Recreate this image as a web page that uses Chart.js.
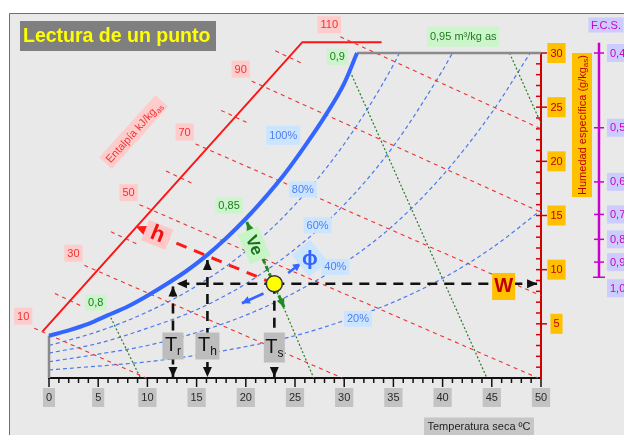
<!DOCTYPE html>
<html>
<head>
<meta charset="utf-8">
<title>Lectura de un punto</title>
<script src="https://cdn.jsdelivr.net/npm/chart.js@4"></script>
<style>
  html, body { margin: 0; padding: 0; background: #fff; }
  canvas { display: block; }
</style>
</head>
<body>
<canvas id="psy" width="624" height="435"></canvas>
<script>
// ---- Axis values ----
const tempLabels = [0, 5, 10, 15, 20, 25, 30, 35, 40, 45, 50];          // dry bulb, °C
const humLabels  = [5, 10, 15, 20, 25, 30];                              // g/kg dry air
const fcsLabels  = ['0,4', '0,5', '0,6', '0,7', '0,8', '0,9', '1,0'];    // sensible heat factor
const fcsPos     = [30.0, 23.1, 18.1, 15.1, 12.8, 10.7, 9.3];            // where each F.C.S. tick sits on the humidity scale

// ---- Saturation curve (100 %) ----
const satTemp = [0, 2, 4, 6, 8, 10, 12, 14, 16, 18, 20, 22, 24, 26, 28, 30, 31.3];
const satHum  = [3.9, 4.4, 5.0, 5.8, 6.6, 7.6, 8.7, 9.9, 11.3, 12.9, 14.7, 16.7, 18.9, 21.4, 24.1, 27.2, 30];

// ---- Relative humidity curves [T, W] ----
const rh80 = [[0, 3.0], [5, 4.3], [10, 6.1], [15, 8.5], [20, 11.7], [25, 16.0], [30, 21.6], [35, 28.9], [35.6, 30]];
const rh60 = [[0, 2.3], [5, 3.2], [10, 4.6], [15, 6.3], [20, 8.7], [25, 11.9], [30, 16.0], [35, 21.4], [40, 28.4], [41, 30]];
const rh40 = [[0, 1.5], [5, 2.2], [10, 3.0], [15, 4.2], [20, 5.8], [25, 7.9], [30, 10.6], [35, 14.1], [40, 18.7], [45, 24.5], [48.9, 30]];
const rh20 = [[0, 0.75], [5, 1.1], [10, 1.5], [15, 2.1], [20, 2.9], [25, 3.9], [30, 5.3], [35, 7.0], [40, 9.2], [45, 12.0], [50, 15.5]];
const rhNames = ['100%', '80%', '60%', '40%', '20%'];

// ---- Enthalpy (kJ/kg dry air) ----
const enthalpyValues = [10, 30, 50, 70, 90, 110];
const enthalpyFrom = [[-1.5, 4.6], [3.6, 10.4], [9.2, 16.0], [14.9, 21.6], [20.6, 27.4], [29.6, 31.5]];
const enthalpyTo   = [[9.9, 0], [29.8, 0], [49.7, 0], [50, 7.6], [50, 15.3], [50, 23.0]];
const enthalpyMarks = [ // 20, 40, 60, 80, 100 on the enthalpy scale
  [[0.6, 7.8], [3.4, 6.6]],
  [[6.3, 13.5], [9.1, 12.3]],
  [[11.9, 19.1], [14.7, 17.9]],
  [[17.5, 24.7], [20.3, 23.5]],
  [[23.0, 30.2], [25.8, 29.0]]
];
const enthalpyScale = [[-0.65, 4.3], [25.75, 31.0], [33.8, 31.0]];

// ---- Specific volume (m3/kg dry air) ----
const volumeNames = ['0,8', '0,85', '0,9'];
const volumeFrom = [[6.1, 5.9], [20.0, 14.7], [30.6, 28.3], [46.8, 30]];
const volumeTo   = [[9.3, 0], [26.9, 0], [44.5, 0], [50, 23.5]];

// ---- The state point and its readings ----
const stateT = 22.9, stateW = 8.7;
const dewT = 12.6, dewTop = 8.45;
const wetT = 16.1, wetTop = 10.9;
const leftTipT = 13.0, rightTipT = 49.6;
const hReadEnd = [8.8, 14.0];
const veReadEnds = [[20.1, 14.4], [23.9, 6.5]];
const phiUp   = [[24.3, 9.7], [25.6, 10.6]];
const phiDown = [[21.8, 7.8], [19.6, 6.9]];

const FONT = '"Liberation Sans", Arial, Helvetica, sans-serif';

// ---------- drawing helpers ----------
function seg(ctx, x1, y1, x2, y2) {
  ctx.beginPath(); ctx.moveTo(x1, y1); ctx.lineTo(x2, y2); ctx.stroke();
}
function tag(ctx, txt, cx, cy, o) {
  ctx.save();
  ctx.translate(cx, cy);
  if (o.rot) ctx.rotate(o.rot * Math.PI / 180);
  ctx.font = o.font || ('11px ' + FONT);
  const w = o.w || (ctx.measureText(txt).width + (o.pad != null ? o.pad : 7));
  const h = o.h || 18;
  ctx.fillStyle = o.bg;
  ctx.fillRect(-w / 2, -h / 2, w, h);
  if (o.textRot != null) ctx.rotate((o.textRot - (o.rot || 0)) * Math.PI / 180);
  ctx.fillStyle = o.color;
  ctx.textAlign = 'center';
  ctx.textBaseline = 'middle';
  ctx.fillText(txt, 0, (o.dy || 0) + 0.5);
  ctx.restore();
}
function head(ctx, fx, fy, tx, ty, len, half, color) {
  const a = Math.atan2(ty - fy, tx - fx);
  ctx.save();
  ctx.translate(tx, ty);
  ctx.rotate(a);
  ctx.fillStyle = color;
  ctx.beginPath();
  ctx.moveTo(0, 0);
  ctx.lineTo(-len, -half);
  ctx.lineTo(-len, half);
  ctx.closePath();
  ctx.fill();
  ctx.restore();
}

function drawAxes(chart) {
  const ctx = chart.ctx, xs = chart.scales.x, ys = chart.scales.y;
  const X = v => xs.getPixelForValue(v), Y = v => ys.getPixelForValue(v);
  ctx.save();
  ctx.setLineDash([]);

  // dry-bulb axis
  ctx.strokeStyle = '#111';
  ctx.lineWidth = 2;
  seg(ctx, X(0) - 1, Y(0), X(50) + 1, Y(0));
  ctx.lineWidth = 1.5;
  for (let t = tempLabels[0]; t <= tempLabels[tempLabels.length - 1]; t++) {
    seg(ctx, X(t), Y(0), X(t), Y(0) + (t % 5 === 0 ? 9 : 5));
  }
  tempLabels.forEach(t => tag(ctx, String(t), X(t), Y(0) + 19.5,
    { bg: '#c3c3c3', color: '#2a2a2a', h: 19, pad: 6 }));
  tag(ctx, 'Temperatura seca ºC', X(43.7), 426.5,
    { bg: '#c6c6c6', color: '#1e1e1e', h: 18, w: 110 });

  // humidity axis
  ctx.strokeStyle = '#d00000';
  ctx.lineWidth = 2;
  seg(ctx, X(50), Y(0) + 1, X(50), Y(30));
  ctx.lineWidth = 1.5;
  for (let w = 1; w <= humLabels[humLabels.length - 1]; w++) {
    const major = w % 5 === 0;
    seg(ctx, X(50) - 5, Y(w), X(50) + (major ? 6 : 0), Y(w));
  }
  humLabels.forEach(w => tag(ctx, String(w), X(50) + 15.5, Y(w),
    { bg: '#ffc000', color: '#c00000', h: 20, pad: 6 }));

  // axis title, rotated, with subscript
  ctx.save();
  const hx = X(50) + 41, hy = Y(30) + 72;
  ctx.fillStyle = '#ffc000';
  ctx.fillRect(hx - 10, Y(30), 20, 144);
  ctx.translate(hx, hy);
  ctx.rotate(-Math.PI / 2);
  ctx.fillStyle = '#c00000';
  ctx.textBaseline = 'middle';
  ctx.font = '11px ' + FONT;
  const main = 'Humedad específica (g/kg';
  const w1 = ctx.measureText(main).width;
  ctx.font = '8px ' + FONT;
  const w2 = ctx.measureText('as').width;
  ctx.font = '11px ' + FONT;
  const w3 = ctx.measureText(')').width;
  let sx = -(w1 + w2 + w3) / 2;
  ctx.textAlign = 'left';
  ctx.fillText(main, sx, 1);
  ctx.font = '8px ' + FONT;
  ctx.fillText('as', sx + w1, 4);
  ctx.font = '11px ' + FONT;
  ctx.fillText(')', sx + w1 + w2, 1);
  ctx.restore();

  // F.C.S. scale
  const fx = X(50) + 58;
  ctx.strokeStyle = '#cc00cc';
  ctx.lineWidth = 2.5;
  seg(ctx, fx, Y(30.95), fx, Y(fcsPos[fcsPos.length - 1]));
  ctx.lineWidth = 1.5;
  fcsPos.forEach((p, i) => {
    const last = i === fcsPos.length - 1;
    seg(ctx, fx - (last ? 6 : 5), Y(p), fx + (last ? 6 : 5), Y(p));
    const ly = last ? Y(p) + 11 : Y(p);
    ctx.fillStyle = '#ccccff';
    ctx.fillRect(fx + 8, ly - 9, 40, 18);
    ctx.fillStyle = '#cc00cc';
    ctx.font = '11px ' + FONT;
    ctx.textAlign = 'left';
    ctx.textBaseline = 'middle';
    ctx.fillText(fcsLabels[i], fx + 11, ly + 0.5);
  });
  tag(ctx, 'F.C.S.', fx + 7, 25, { bg: '#ccccff', color: '#cc00cc', h: 15, w: 35 });

  ctx.restore();
}

function subText(ctx, base, sub, cx, cy, bigPx, smallPx, color, bold) {
  const b = bold ? 'bold ' : '';
  ctx.font = b + bigPx + 'px ' + FONT;
  const w1 = ctx.measureText(base).width;
  ctx.font = b + smallPx + 'px ' + FONT;
  const w2 = ctx.measureText(sub).width;
  const sx = cx - (w1 + w2) / 2;
  ctx.fillStyle = color;
  ctx.textAlign = 'left';
  ctx.textBaseline = 'alphabetic';
  ctx.font = b + bigPx + 'px ' + FONT;
  ctx.fillText(base, sx, cy + bigPx * 0.36);
  ctx.font = b + smallPx + 'px ' + FONT;
  ctx.fillText(sub, sx + w1, cy + bigPx * 0.36 + smallPx * 0.35);
}

function drawTags(chart) {
  const ctx = chart.ctx, xs = chart.scales.x, ys = chart.scales.y;
  const X = v => xs.getPixelForValue(v), Y = v => ys.getPixelForValue(v);
  ctx.save();
  ctx.setLineDash([]);

  // title
  ctx.fillStyle = '#7f7f7f';
  ctx.fillRect(20, 21, 196, 30);
  ctx.fillStyle = '#ffff00';
  ctx.font = 'bold 19.5px ' + FONT;
  ctx.textAlign = 'left';
  ctx.textBaseline = 'middle';
  ctx.fillText('Lectura de un punto', 23, 37);

  // enthalpy values at the start of each line
  enthalpyValues.forEach((h, i) => {
    const [t, w] = enthalpyFrom[i];
    tag(ctx, String(h), X(t) - 11, Y(w) - 12, { bg: '#ffcccc', color: '#ee3333', h: 17, pad: 6 });
  });

  // enthalpy title along the enthalpy scale
  ctx.save();
  ctx.translate(X(8.6), Y(22.7));
  ctx.rotate(-48 * Math.PI / 180);
  ctx.fillStyle = '#ffcccc';
  ctx.fillRect(-42, -8.5, 84, 17);
  subText(ctx, 'Entalpía kJ/kg', 'as', 0, 0, 11, 8, '#ee3333', false);
  ctx.restore();

  // relative humidity values
  const rhAt = [[23.8, 22.4], [25.8, 17.4], [27.3, 14.1], [29.1, 10.25], [31.4, 5.45]];
  rhNames.forEach((n, i) => tag(ctx, n, X(rhAt[i][0]), Y(rhAt[i][1]),
    { bg: '#cce5ff', color: '#4f7ef0', h: i === 0 ? 19 : 16, pad: 6 }));

  // specific volume values
  const volAt = [[4.75, 6.95], [18.3, 15.9], [29.3, 29.65]];
  volumeNames.forEach((n, i) => tag(ctx, n, X(volAt[i][0]), Y(volAt[i][1]),
    { bg: '#ccf5cc', color: '#1f7a1f', h: 16, pad: 6 }));
  tag(ctx, '0,95 m³/kg as', X(42.1), Y(31.5), { bg: '#ccf5cc', color: '#1f7a1f', h: 20, w: 72 });

  // reading tags
  tag(ctx, 'h', X(11.0), Y(13.2), { rot: 22, bg: '#ffc8c8', color: '#ee1111', font: 'bold 22px ' + FONT, w: 26, h: 22, dy: -1 });
  tag(ctx, 'Ve', X(20.85), Y(12.25), { rot: 67, bg: '#c8f5c8', color: '#1a6e1a', font: 'bold 17px ' + FONT, w: 32, h: 22 });
  tag(ctx, 'ϕ', X(26.5), Y(11.05), { rot: -40, textRot: 0, bg: '#cce5ff', color: '#3366ff', font: 'bold 21px ' + FONT, w: 24, h: 28 });

  // temperature reading boxes
  [[dewT, 'r', 21], [wetT, 'h', 24], [stateT, 's', 21]].forEach(([t, s, w], i) => {
    const cy = i === 2 ? Y(0) - 30.5 : Y(0) - 32;
    const hh = i === 2 ? 30 : 27;
    ctx.fillStyle = '#bdbdbd';
    ctx.fillRect(X(t) - w / 2, cy - hh / 2, w, hh);
    subText(ctx, 'T', s, X(t), cy - 2, 20, 12, '#111', false);
  });

  // humidity reading box
  tag(ctx, 'W', X(46.2), Y(stateW - 0.25), { bg: '#ffc000', color: '#c00000', font: 'bold 20px ' + FONT, w: 23, h: 27 });

  ctx.restore();
}

const psyPlugin = {
  id: 'psy',
  beforeDraw(chart) {
    const ctx = chart.ctx;
    ctx.save();
    ctx.fillStyle = '#ffffff';
    ctx.fillRect(0, 0, chart.width, chart.height);
    ctx.fillStyle = '#e9e9e9';
    ctx.fillRect(9.5, 13, chart.width, chart.height);
    ctx.strokeStyle = '#6e6e6e';
    ctx.lineWidth = 1;
    ctx.beginPath();
    ctx.moveTo(9.5, chart.height);
    ctx.lineTo(9.5, 13.5);
    ctx.lineTo(chart.width, 13.5);
    ctx.stroke();
    ctx.restore();
  },
  beforeDatasetsDraw(chart) { drawAxes(chart); },
  beforeDatasetDraw(chart, args) {
    if (chart.data.datasets[args.index].isState) drawTags(chart);
  },
  afterDatasetDraw(chart, args) {
    const d = chart.data.datasets[args.index];
    if (!d.arrow) return;
    const pts = args.meta.data;
    const n = pts.length;
    const ctx = chart.ctx;
    const len = d.headLen || 10, half = d.headHalf || 4.5;
    if (d.arrow === 'end' || d.arrow === 'both') head(ctx, pts[n - 2].x, pts[n - 2].y, pts[n - 1].x, pts[n - 1].y, len, half, d.borderColor);
    if (d.arrow === 'start' || d.arrow === 'both') head(ctx, pts[1].x, pts[1].y, pts[0].x, pts[0].y, len, half, d.borderColor);
  }
};

// ---------- datasets ----------
const datasets = [];
function addLine(points, style) {
  datasets.push(Object.assign({
    data: points.map(([t, w]) => ({ x: t, y: w })),
    showLine: true, fill: false, pointRadius: 0, pointHoverRadius: 0,
    clip: false, tension: 0
  }, style));
}

const rhStyle = { borderColor: '#4a78f0', borderWidth: 1.2, borderDash: [4, 3], cubicInterpolationMode: 'monotone' };
[rh80, rh60, rh40, rh20].forEach(c => addLine(c, rhStyle));

volumeFrom.forEach((p, i) => addLine([p, volumeTo[i]],
  { borderColor: '#2a7a2a', borderWidth: 1.2, borderDash: [2, 2] }));

enthalpyFrom.forEach((p, i) => addLine([p, enthalpyTo[i]],
  { borderColor: '#f03030', borderWidth: 1.1, borderDash: [4, 4] }));
enthalpyMarks.forEach(m => addLine(m,
  { borderColor: '#f03030', borderWidth: 1.1, borderDash: [4, 4] }));

addLine(enthalpyScale, { borderColor: '#ff1414', borderWidth: 2 });

// chart border: dry-bulb 0 °C edge and 30 g/kg edge
addLine([[0, 0], [0, satHum[0]]], { borderColor: '#8a8a8a', borderWidth: 2.5 });
addLine([[satTemp[satTemp.length - 1], 30], [50, 30]], { borderColor: '#8a8a8a', borderWidth: 2.5 });

addLine(satTemp.map((t, i) => [t, satHum[i]]),
  { borderColor: '#3366ff', borderWidth: 4, cubicInterpolationMode: 'monotone' });

// readings from the state point
const blackDash = { borderColor: '#111111', borderWidth: 2.6, borderDash: [10, 7], headLen: 10, headHalf: 4.5 };
addLine([[stateT, stateW], [leftTipT, stateW]], Object.assign({ arrow: 'end' }, blackDash));
addLine([[stateT, stateW], [rightTipT, stateW]], Object.assign({ arrow: 'end' }, blackDash));
addLine([[dewT, dewTop], [dewT, 0.1]], Object.assign({ arrow: 'both' }, blackDash));
addLine([[wetT, wetTop], [wetT, 0.1]], Object.assign({ arrow: 'both' }, blackDash));
addLine([[stateT, stateW], [stateT, 0.1]], Object.assign({ arrow: 'end' }, blackDash));

addLine([[stateT, stateW], hReadEnd],
  { borderColor: '#ff1a1a', borderWidth: 3, borderDash: [11, 8], arrow: 'end', headLen: 11, headHalf: 5 });
addLine(veReadEnds,
  { borderColor: '#1e8c1e', borderWidth: 3, borderDash: [5, 3], arrow: 'both', headLen: 9, headHalf: 4 });
addLine(phiUp, { borderColor: '#3366ff', borderWidth: 2.5, arrow: 'end', headLen: 8, headHalf: 4 });
addLine(phiDown, { borderColor: '#3366ff', borderWidth: 2.5, arrow: 'end', headLen: 8, headHalf: 4 });

// the state point itself
datasets.push({
  isState: true,
  data: [{ x: stateT, y: stateW }],
  showLine: false, clip: false,
  pointRadius: 8, pointHoverRadius: 8,
  backgroundColor: '#ffff00', borderColor: '#333333', borderWidth: 1.5
});

// later datasets drawn on top
datasets.forEach((d, i) => { d.order = -i; });

new Chart(document.getElementById('psy'), {
  type: 'scatter',
  data: { datasets },
  options: {
    responsive: false,
    animation: false,
    events: [],
    layout: { padding: { left: 49, right: 83, top: 53, bottom: 57 } },
    scales: {
      x: { type: 'linear', min: 0, max: 50, display: false },
      y: { type: 'linear', min: 0, max: 30, display: false }
    },
    plugins: { legend: { display: false }, tooltip: { enabled: false } }
  },
  plugins: [psyPlugin]
});
</script>
</body>
</html>
